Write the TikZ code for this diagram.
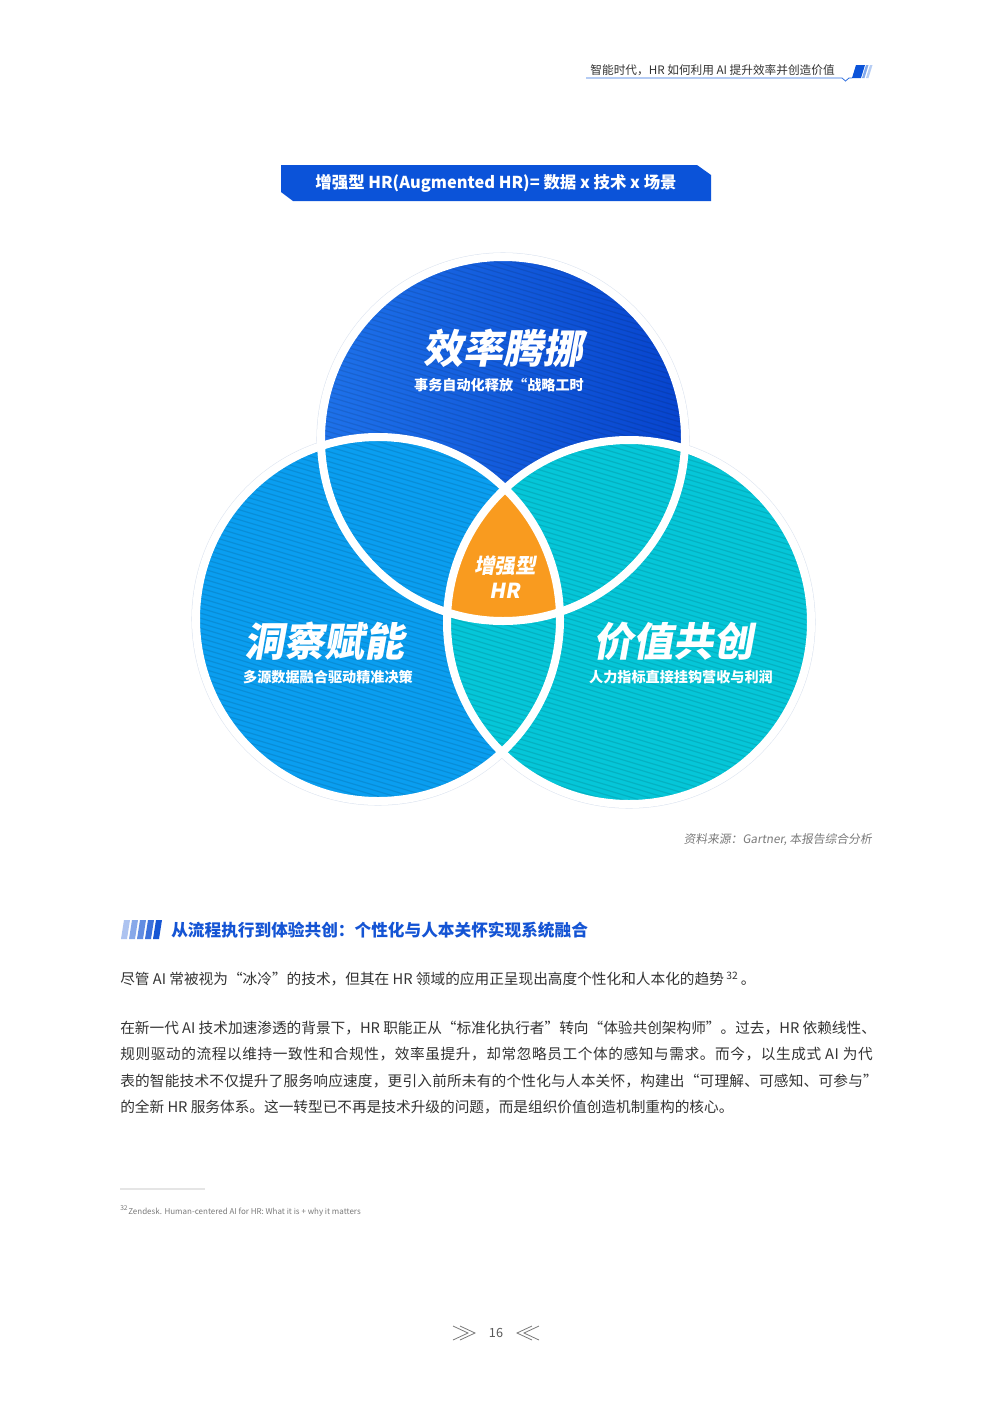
\documentclass[tikz,border=0pt]{standalone}
\usepackage{fontspec}
\setmainfont{Noto Sans CJK SC}
\newfontfamily\dispfont[FakeSlant=0.18]{Noto Sans CJK SC}
\newfontfamily\slfont[FakeSlant=0.15]{Noto Sans CJK SC}
\usetikzlibrary{positioning}

\definecolor{bannerblue}{HTML}{0B53D9}
\definecolor{topblueA}{HTML}{1E72EA}
\definecolor{topblueB}{HTML}{0744CE}
\definecolor{leftblue}{HTML}{0A9EF0}
\definecolor{rightteal}{HTML}{05C6D8}
\definecolor{hrorange}{HTML}{F99B1F}
\definecolor{ringgray}{HTML}{DCE4F0}
\definecolor{headblue}{HTML}{2F6FE0}
\definecolor{textgray}{HTML}{333333}
\definecolor{notegray}{HTML}{7A7A7A}
\definecolor{secblue}{HTML}{1454D4}

\begin{document}
\begin{tikzpicture}[x=0.75pt,y=-0.75pt,
    bigtitle/.style={text=white,inner sep=0pt,font=\dispfont\bfseries\fontsize{30}{32}\selectfont},
    subtitle/.style={text=white,inner sep=0pt,font=\bfseries\fontsize{10.6}{13}\selectfont},
    bodyline/.style={anchor=west,inner sep=0pt,text=textgray,font=\fontsize{11}{14}\selectfont},
    ring/.style={draw=ringgray,line width=0.8pt},
    cut/.style={draw=white,line width=6pt}]

    \useasboundingbox (0,0) rectangle (992,1403);
    \fill[white] (0,0) rectangle (992,1403);

    % header:
    \node[anchor=east,inner sep=0pt,text=textgray,font=\fontsize{8.75}{10}\selectfont] (runhead) at (835,70) {智能时代，HR 如何利用 AI 提升效率并创造价值};
    \draw[headblue,line width=0.6pt] (586,78) -- (842,78) -- (845.5,81) -- (849,78) -- (852,78);
    \fill[bannerblue] (852,78) -- (856,65) -- (865,65) -- (861,78) -- cycle;
    \fill[headblue!60!white] (862,78) -- (866,65) -- (868.5,65) -- (864.5,78) -- cycle;
    \fill[headblue!35!white] (866,78) -- (870,65) -- (872.5,65) -- (868.5,78) -- cycle;

    % banner:
    \fill[bannerblue] (281,165) -- (697,165) -- (711,175) -- (711,201) -- (293,201) -- (281,192) -- cycle;
    \node[text=white,font=\bfseries\fontsize{12.3}{14}\selectfont] (banner) at (496,183) {增强型 HR(Augmented HR)= 数据 x 技术 x 场景};

    % venn:
    \coordinate (ctop) at (503,439);
    \coordinate (cleft) at (378,619);
    \coordinate (cright) at (629,622);

    \draw[ring] (ctop) circle (139.5pt);
    \draw[ring] (cleft) circle (139.5pt);
    \draw[ring] (cright) circle (139.5pt);

    \shade[left color=topblueA,right color=topblueB] (ctop) circle (136.5pt);
    \fill[leftblue] (cleft) circle (136.5pt);
    \fill[rightteal] (cright) circle (136.5pt);

    % stripes:
    \begin{scope}
        \clip (ctop) circle (136.5pt) (cleft) circle (136.5pt) (cright) circle (136.5pt);
        \foreach \k in {60,65,...,815}
            \draw[black,opacity=0.1,line width=0.9pt] (190,\k) -- (820,\k+189);
    \end{scope}

    % center:
    \begin{scope}
        \clip (ctop) circle (136.5pt);
        \clip (cleft) circle (136.5pt);
        \fill[hrorange] (cright) circle (136.5pt);
    \end{scope}

    \draw[cut] (ctop) circle (136.5pt);
    \draw[cut] (cleft) circle (136.5pt);
    \draw[cut] (cright) circle (136.5pt);

    \node[bigtitle] (efftitle) at (503,348) {效率腾挪};
    \node[subtitle] (effsub) at (499,385) {事务自动化释放“战略工时};
    \node[bigtitle] (institle) at (324,641) {洞察赋能};
    \node[subtitle] (inssub) at (328,677) {多源数据融合驱动精准决策};
    \node[bigtitle] (valtitle) at (673,641) {价值共创};
    \node[subtitle] (valsub) at (681,677) {人力指标直接挂钩营收与利润};
    \node[text=white,inner sep=0pt,font=\dispfont\bfseries\fontsize{15.5}{17}\selectfont] (hrtop) at (505,566) {增强型};
    \node[text=white,inner sep=0pt,font=\dispfont\bfseries\fontsize{15.5}{17}\selectfont] (hrbot) at (505,591) {HR};

    % source:
    \node[anchor=east,inner sep=0pt,text=notegray,font=\slfont\fontsize{8.8}{10}\selectfont] (source) at (872,840) {资料来源：Gartner, 本报告综合分析};

    % section heading:
    \foreach \i in {0,...,4} {
        \pgfmathsetmacro\pc{35+16*\i}
        \fill[secblue!\pc!white] (121+8*\i,939) -- (124+8*\i,920) -- (130+8*\i,920) -- (127+8*\i,939) -- cycle;
    }
    \node[anchor=west,inner sep=0pt,text=secblue,font=\bfseries\fontsize{12.5}{14}\selectfont] (section) at (171,930) {从流程执行到体验共创：个性化与人本关怀实现系统融合};

    % body:
    \node[bodyline] (line0) at (120,979) {尽管 AI 常被视为“冰冷”的技术，但其在 HR 领域的应用正呈现出高度个性化和人本化的趋势\,\textsuperscript{32}\,。};
    \node[bodyline] (line1) at (120,1028) {在新一代 AI 技术加速渗透的背景下，HR 职能正从“标准化执行者”转向“体验共创架构师”。过去，HR 依赖线性、};
    \node[bodyline] (line2) at (120,1054) {\addfontfeature{LetterSpace=4}规则驱动的流程以维持一致性和合规性，效率虽提升，却常忽略员工个体的感知与需求。而今，以生成式 AI 为代};
    \node[bodyline] (line3) at (120,1081) {\addfontfeature{LetterSpace=1.3}表的智能技术不仅提升了服务响应速度，更引入前所未有的个性化与人本关怀，构建出“可理解、可感知、可参与”};
    \node[bodyline] (line4) at (120,1107) {的全新 HR 服务体系。这一转型已不再是技术升级的问题，而是组织价值创造机制重构的核心。};

    % footnote:
    \draw[black!10,line width=1.2pt] (120,1189) -- (205,1189);
    \node[anchor=west,inner sep=0pt,text=notegray,font=\fontsize{6}{7}\selectfont] (footnote) at (120,1211) {\textsuperscript{32}Zendesk. Human-centered AI for HR: What it is + why it matters};

    % page number:
    \draw[notegray,line width=0.6pt] (453,1326) -- (468,1333) -- (453,1340);
    \draw[notegray,line width=0.6pt] (460,1326) -- (475,1333) -- (460,1340);
    \node[text=black!65,font=\fontsize{9.5}{11}\selectfont] (pagenum) at (496,1333) {16};
    \draw[notegray,line width=0.6pt] (539,1326) -- (524,1333) -- (539,1340);
    \draw[notegray,line width=0.6pt] (532,1326) -- (517,1333) -- (532,1340);

\end{tikzpicture}
\end{document}
